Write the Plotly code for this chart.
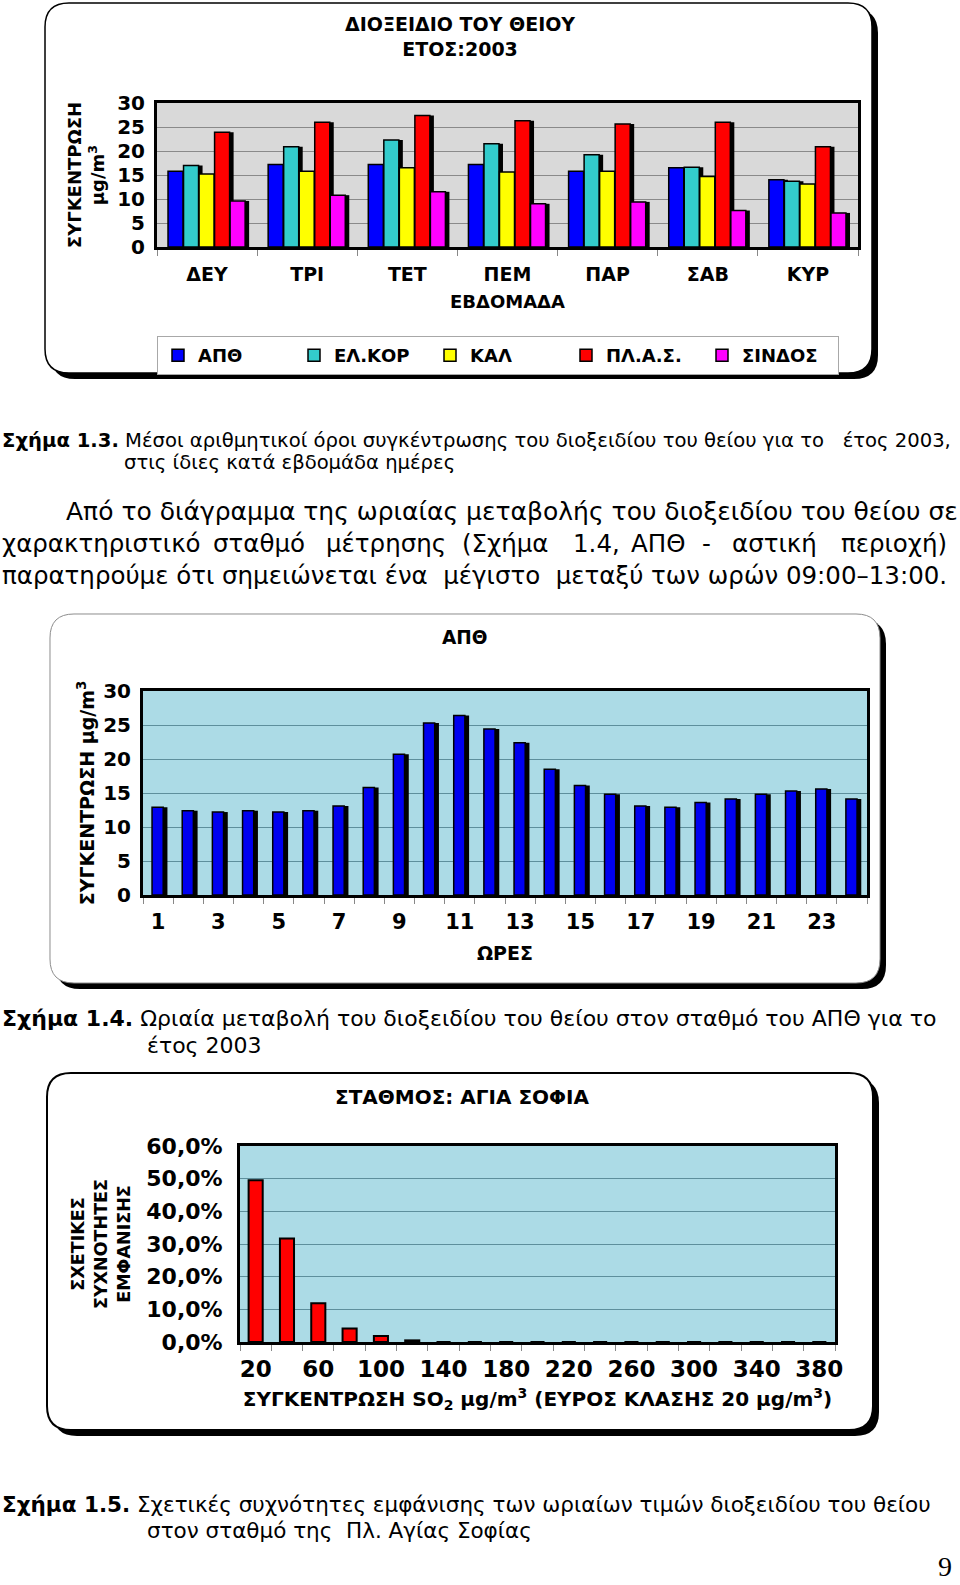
import plotly.graph_objects as go

W, H = 960, 1585

# ---------------- data ----------------
days = ["ΔΕΥ", "ΤΡΙ", "ΤΕΤ", "ΠΕΜ", "ΠΑΡ", "ΣΑΒ", "ΚΥΡ"]
apth = [15.8, 17.2, 17.2, 17.2, 15.8, 16.5, 14.0]
elkor = [17.0, 20.9, 22.3, 21.5, 19.2, 16.6, 13.7]
kal = [15.2, 15.8, 16.5, 15.6, 15.8, 14.7, 13.1]
plas = [23.9, 26.0, 27.4, 26.3, 25.6, 26.0, 20.9]
sindos = [9.6, 10.8, 11.5, 9.0, 9.4, 7.6, 7.1]
series_names = ["ΑΠΘ", "ΕΛ.ΚΟΡ", "ΚΑΛ", "ΠΛ.Α.Σ.", "ΣΙΝΔΟΣ"]
series_colors = ["#0000ff", "#33cccc", "#ffff00", "#ff0000", "#ff00ff"]

hours = list(range(1, 25))
apth_hourly = [12.9, 12.4, 12.2, 12.4, 12.2, 12.4, 13.1, 15.8, 20.7, 25.3, 26.4, 24.4,
               22.4, 18.5, 16.1, 14.8, 13.1, 12.9, 13.6, 14.1, 14.8, 15.3, 15.6, 14.1]

so2_bins = list(range(20, 400, 20))
so2_freq = [0.495, 0.317, 0.119, 0.041, 0.018, 0.005, 0, 0, 0, 0,
            0, 0, 0, 0, 0, 0, 0, 0, 0]

FONT = "DejaVu Sans"


def px(x):
    return x / W


def py(y):
    return 1 - y / H


def rrect(x0, y0, x1, y1, r):
    pts = [
        ("M", [(x0 + r, y0)]), ("L", [(x1 - r, y0)]), ("Q", [(x1, y0), (x1, y0 + r)]),
        ("L", [(x1, y1 - r)]), ("Q", [(x1, y1), (x1 - r, y1)]), ("L", [(x0 + r, y1)]),
        ("Q", [(x0, y1), (x0, y1 - r)]), ("L", [(x0, y0 + r)]), ("Q", [(x0, y0), (x0 + r, y0)]),
    ]
    s = ""
    for cmd, cs in pts:
        s += cmd + " " + " ".join(f"{px(a):.5f},{py(b):.5f}" for a, b in cs) + " "
    return s + "Z"


fig = go.Figure()

# ---------------- chart 1 ----------------
vals1 = [apth, elkor, kal, plas, sindos]
bw1 = 0.15
for i, (nm, col, v) in enumerate(zip(series_names, series_colors, vals1)):
    off = -0.39 + i * 0.155
    fig.add_trace(go.Bar(x=days, y=v, xaxis="x", yaxis="y", offset=off + 0.04, width=bw1,
                         marker=dict(color="black", line=dict(width=0)),
                         showlegend=False, hoverinfo="skip"))
    fig.add_trace(go.Bar(x=days, y=v, xaxis="x", yaxis="y", offset=off, width=bw1, name=nm,
                         marker=dict(color=col, line=dict(color="black", width=1.5))))

# ---------------- chart 2 ----------------
fig.add_trace(go.Bar(x=hours, y=apth_hourly, xaxis="x2", yaxis="y2", offset=-0.06, width=0.37,
                     marker=dict(color="black", line=dict(width=0)), showlegend=False,
                     hoverinfo="skip"))
fig.add_trace(go.Bar(x=hours, y=apth_hourly, xaxis="x2", yaxis="y2", offset=-0.2, width=0.37,
                     marker=dict(color="#0000f0", line=dict(color="black", width=1.5)),
                     showlegend=False, name="ΑΠΘ"))

# ---------------- chart 3 ----------------
fig.add_trace(go.Bar(x=so2_bins, y=so2_freq, xaxis="x3", yaxis="y3", width=9,
                     marker=dict(color="#ff0000", line=dict(color="black", width=2)),
                     showlegend=False, name="ΑΓΙΑ ΣΟΦΙΑ"))


def bf(size):
    return dict(family=FONT, size=size, color="black", weight="bold")


axline = dict(showline=True, linecolor="black", linewidth=3, mirror=True, zeroline=False,
              automargin=False)

fig.update_layout(
    width=W, height=H, margin=dict(l=0, r=0, t=0, b=0, autoexpand=False),
    paper_bgcolor="white", plot_bgcolor="rgba(0,0,0,0)",
    barmode="overlay", separators=",.",
    font=dict(family=FONT, color="black"),
    xaxis=dict(domain=[px(157), px(858)], anchor="y", type="category", **axline,
               ticks="outside", tickson="boundaries", ticklen=6, tickcolor="#888",
               tickfont=bf(19), ticklabelstandoff=8, showgrid=False,
               title=dict(text="ΕΒΔΟΜΑΔΑ", font=bf(18), standoff=12)),
    yaxis=dict(domain=[py(247), py(103)], anchor="x", range=[0, 30], dtick=5, **axline,
               gridcolor="#8a8a8a", gridwidth=1, tickfont=bf(20), ticklabelstandoff=5,
               title=dict(text="ΣΥΓΚΕΝΤΡΩΣΗ<br>μg/m<sup>3</sup>", font=bf(18), standoff=8)),
    xaxis2=dict(domain=[px(143), px(867)], anchor="y2", range=[0.5, 24.5], **axline,
                tickmode="linear", tick0=1, dtick=2, ticks="", tickfont=bf(21),
                ticklabelstandoff=6, showgrid=False,
                minor=dict(ticks="outside", tickmode="linear", tick0=0.5, dtick=1,
                           ticklen=6, tickcolor="#888", showgrid=False),
                title=dict(text="ΩΡΕΣ", font=bf(19), standoff=14)),
    yaxis2=dict(domain=[py(895), py(691)], anchor="x2", range=[0, 30], dtick=5, **axline,
                gridcolor="#5e8f9c", gridwidth=1, tickfont=bf(20), ticklabelstandoff=5,
                title=dict(text="ΣΥΓΚΕΝΤΡΩΣΗ μg/m<sup>3</sup>", font=bf(19), standoff=4)),
    xaxis3=dict(domain=[px(240), px(835)], anchor="y3", range=[10, 390], **axline,
                tickmode="linear", tick0=20, dtick=40, ticks="", tickfont=bf(23),
                ticklabelstandoff=4, showgrid=False,
                minor=dict(ticks="outside", tickmode="linear", tick0=10, dtick=20,
                           ticklen=6, tickcolor="#888", showgrid=False),
                title=dict(text="ΣΥΓΚΕΝΤΡΩΣΗ SO<sub>2</sub> μg/m<sup>3</sup> (ΕΥΡΟΣ ΚΛΑΣΗΣ 20 μg/m<sup>3</sup>)",
                           font=bf(20), standoff=12)),
    yaxis3=dict(domain=[py(1342), py(1146)], anchor="x3", range=[0, 0.6], dtick=0.1,
                tickformat=".1%", **axline, gridcolor="#5e8f9c", gridwidth=1,
                tickfont=bf(22), ticklabelstandoff=10,
                title=dict(text="ΣΧΕΤΙΚΕΣ<br>ΣΥΧΝΟΤΗΤΕΣ<br>ΕΜΦΑΝΙΣΗΣ", font=bf(17.5), standoff=12)),
    legend=dict(orientation="h", x=px(157), y=py(336), xanchor="left", yanchor="top",
                bordercolor="#a8a8a8", borderwidth=1, bgcolor="white",
                font=bf(18), itemwidth=30, entrywidth=91, entrywidthmode="pixels"),
)

shapes = []
# chart boxes (shadow + box)
boxes = [
    (45, 3, 872, 373, 24, "black", 1.5),
    (50, 614, 880, 983, 24, "#8c8c8c", 1),
    (47, 1073, 873, 1430, 24, "black", 2),
]
for (x0, y0, x1, y1, r, lc, lw) in boxes:
    shapes.append(dict(type="path", path=rrect(x0 + 6, y0 + 6, x1 + 6, y1 + 6, r),
                       xref="paper", yref="paper", fillcolor="black",
                       line=dict(width=0), layer="below"))
    shapes.append(dict(type="path", path=rrect(x0, y0, x1, y1, r),
                       xref="paper", yref="paper", fillcolor="white",
                       line=dict(color=lc, width=lw), layer="below"))
# plot backgrounds
for xr, yr, col in [("x", "y", "#d9d9d9"), ("x2", "y2", "#acdbe6"), ("x3", "y3", "#acdbe6")]:
    shapes.append(dict(type="rect", xref=f"{xr} domain", yref=f"{yr} domain",
                       x0=0, x1=1, y0=0, y1=1, fillcolor=col, line=dict(width=0),
                       layer="below"))
fig.update_layout(shapes=shapes)

ann = []


def text(x, y, s, size, anchor="left", family=FONT):
    ann.append(dict(x=px(x), y=py(y), xref="paper", yref="paper", text=s,
                    showarrow=False, xanchor=anchor, yanchor="middle",
                    font=dict(family=family, size=size, color="black")))


# chart titles
text(460, 36, "<b>ΔΙΟΞΕΙΔΙΟ ΤΟΥ ΘΕΙΟΥ<br>ΕΤΟΣ:2003</b>", 19, "center")
text(465, 637, "<b>ΑΠΘ</b>", 18.5, "center")
text(462, 1097, "<b>ΣΤΑΘΜΟΣ: ΑΓΙΑ ΣΟΦΙΑ</b>", 20, "center")

# caption 1.3
text(0, 440, "<b>Σχήμα 1.3.</b> Μέσοι αριθμητικοί όροι συγκέντρωσης του διοξειδίου του θείου για το   έτος 2003,", 19.6)
text(122, 462, "στις ίδιες κατά εβδομάδα ημέρες", 19.6)

# body paragraph
text(64, 511, "Από το διάγραμμα της ωριαίας μεταβολής του διοξειδίου του θείου σε", 25)
line2 = [(0, "χαρακτηριστικό"), (211, "σταθμό"), (324, "μέτρησης"), (460, "(Σχήμα"),
         (571, "1.4,"), (629, "ΑΠΘ"), (700, "-"), (730, "αστική"), (839, "περιοχή)")]
for x, w in line2:
    text(x, 543, w, 24.5)
text(0, 575, "παρατηρούμε ότι σημειώνεται ένα  μέγιστο  μεταξύ των ωρών 09:00–13:00.", 24.5)

# caption 1.4
text(0, 1019, "<b>Σχήμα 1.4.</b> Ωριαία μεταβολή του διοξειδίου του θείου στον σταθμό του ΑΠΘ για το", 22)
text(145, 1045, "έτος 2003", 22)

# caption 1.5
text(0, 1504, "<b>Σχήμα 1.5.</b> Σχετικές συχνότητες εμφάνισης των ωριαίων τιμών διοξειδίου του θείου", 21.5)
text(145, 1530, "στον σταθμό της  Πλ. Αγίας Σοφίας", 21.5)

# page number
text(936, 1566, "9", 28, "left", "Liberation Serif")

fig.update_layout(annotations=ann)
fig.write_html("out.html")
